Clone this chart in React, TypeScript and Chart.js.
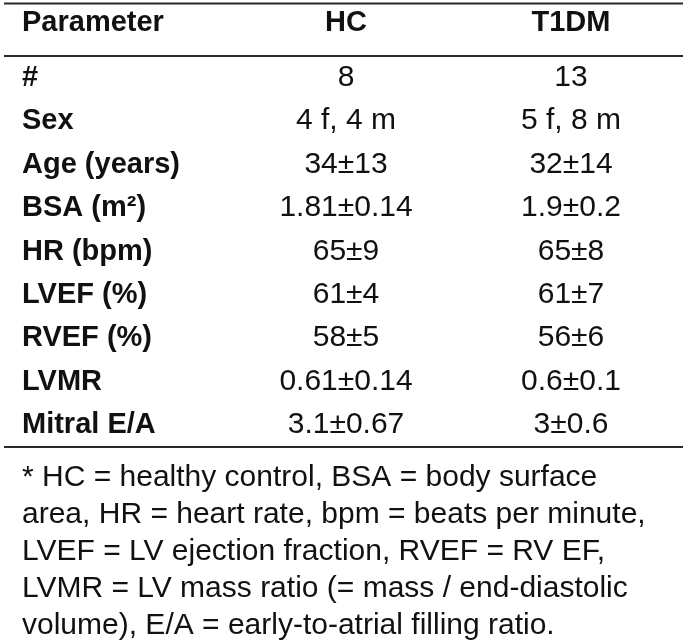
import React, { useEffect, useRef } from "react";
import { Chart, registerables } from "chart.js";

Chart.register(...registerables);

// ---- data ----
const COLUMNS = ["Parameter", "HC", "T1DM"];
const ROW_LABELS = [
  "#",
  "Sex",
  "Age (years)",
  "BSA (m²)",
  "HR (bpm)",
  "LVEF (%)",
  "RVEF (%)",
  "LVMR",
  "Mitral E/A",
];
const HC_VALUES = ["8", "4 f, 4 m", "34±13", "1.81±0.14", "65±9", "61±4", "58±5", "0.61±0.14", "3.1±0.67"];
const T1DM_VALUES = ["13", "5 f, 8 m", "32±14", "1.9±0.2", "65±8", "61±7", "56±6", "0.6±0.1", "3±0.6"];
const FOOTNOTE_LINES = [
  "* HC = healthy control, BSA = body surface",
  "area, HR = heart rate, bpm = beats per minute,",
  "LVEF = LV ejection fraction, RVEF = RV EF,",
  "LVMR = LV mass ratio (= mass / end-diastolic",
  "volume), E/A = early-to-atrial filling ratio.",
];

// ---- layout (x positions in x-scale units, 0..685) ----
const COL_X = [22, 346, 571];
const FONT_FAMILY = "'Liberation Sans', Arial, sans-serif";
const FONT_SIZE = 30;
const BOLD_SIZE = 29;
const TEXT_COLOR = "#111111";
const RULE_COLOR = "#2a2a2a";

function drawText(ctx: CanvasRenderingContext2D, text: string, x: number, y: number, align: CanvasTextAlign, bold: boolean) {
  ctx.save();
  ctx.font = bold ? `bold ${BOLD_SIZE}px ${FONT_FAMILY}` : `${FONT_SIZE}px ${FONT_FAMILY}`;
  ctx.fillStyle = TEXT_COLOR;
  ctx.textBaseline = "alphabetic";
  ctx.textAlign = align;
  ctx.fillText(text, x, y);
  ctx.restore();
}

const tablePlugin = {
  id: "tablePlugin",
  beforeDraw(chart: any) {
    const ctx = chart.ctx;
    ctx.save();
    ctx.fillStyle = "#ffffff";
    ctx.fillRect(0, 0, chart.width, chart.height);
    ctx.restore();
  },
  afterDatasetsDraw(chart: any) {
    const ctx: CanvasRenderingContext2D = chart.ctx;
    const xs = chart.scales.x;
    const ys = chart.scales.y;
    const firstRowY = ys.getPixelForValue(0);
    const lastRowY = ys.getPixelForValue(ROW_LABELS.length - 1);
    const left = xs.getPixelForValue(4);
    const right = xs.getPixelForValue(683);

    // rules
    ctx.save();
    ctx.strokeStyle = RULE_COLOR;
    ctx.lineWidth = 2;
    const rules = [firstRowY - 82.5, firstRowY - 30, lastRowY + 14];
    rules.forEach((ry) => {
      ctx.beginPath();
      ctx.moveTo(left, ry);
      ctx.lineTo(right, ry);
      ctx.stroke();
    });
    ctx.restore();

    // header
    const headerY = firstRowY - 55;
    COLUMNS.forEach((c, i) => {
      drawText(ctx, c, xs.getPixelForValue(COL_X[i]), headerY, i === 0 ? "left" : "center", true);
    });

    // row labels
    ROW_LABELS.forEach((lab, i) => {
      drawText(ctx, lab, xs.getPixelForValue(COL_X[0]), ys.getPixelForValue(i), "left", true);
    });

    // cells, from dataset element positions
    chart.data.datasets.forEach((ds: any, di: number) => {
      const meta = chart.getDatasetMeta(di);
      meta.data.forEach((el: any, i: number) => {
        drawText(ctx, ds.texts[i], el.x, el.y, "center", false);
      });
    });

    // footnote
    FOOTNOTE_LINES.forEach((line, i) => {
      drawText(ctx, line, xs.getPixelForValue(COL_X[0]), lastRowY + 53 + i * 37, "left", false);
    });
  },
};

export default function App() {
  const ref = useRef<HTMLCanvasElement | null>(null);

  useEffect(() => {
    document.body.style.margin = "0";
    if (!ref.current) return;
    const chart = new Chart(ref.current, {
      type: "scatter",
      data: {
        datasets: [
          {
            label: COLUMNS[1],
            data: ROW_LABELS.map((r) => ({ x: COL_X[1], y: r })) as any,
            texts: HC_VALUES,
            pointRadius: 0,
            pointHoverRadius: 0,
          } as any,
          {
            label: COLUMNS[2],
            data: ROW_LABELS.map((r) => ({ x: COL_X[2], y: r })) as any,
            texts: T1DM_VALUES,
            pointRadius: 0,
            pointHoverRadius: 0,
          } as any,
        ],
      },
      options: {
        animation: false,
        responsive: false,
        events: [],
        layout: { padding: { top: 86, bottom: 207, left: 0, right: 0 } },
        scales: {
          x: { type: "linear", min: 0, max: 685, display: false },
          y: { type: "category", labels: ROW_LABELS, offset: false, display: false },
        },
        plugins: { legend: { display: false }, tooltip: { enabled: false }, title: { display: false } },
      },
      plugins: [tablePlugin],
    });
    return () => chart.destroy();
  }, []);

  return (
    <div style={{ width: 685, height: 640 }}>
      <canvas ref={ref} width={685} height={640} style={{ display: "block" }} />
    </div>
  );
}
